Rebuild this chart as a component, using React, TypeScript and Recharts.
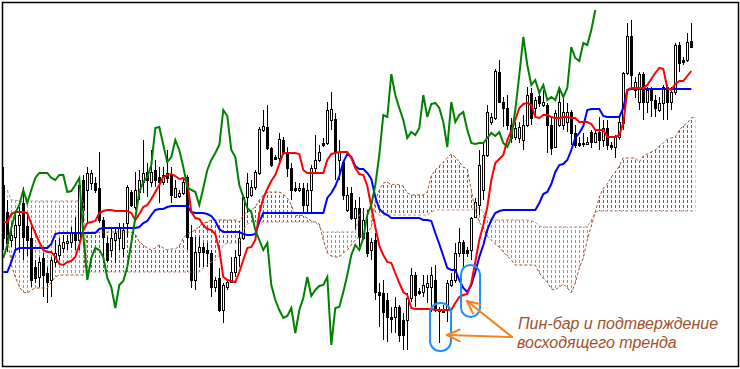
import { ComposedChart, Bar, Line, Area, XAxis, YAxis } from "recharts";

// price points (one value per bar)
const openP = [
  184, 157, 129, 132, 144, 166, 143, 131, 102, 92,
  111, 96, 89, 107, 114, 121, 126, 127, 136, 129,
  189, 179, 186, 186, 181, 149, 126, 119, 129, 131,
  121, 146, 177, 162, 177, 187, 197, 187, 199, 192,
  187, 196, 194, 172, 173, 176, 192, 132, 89, 117,
  122, 119, 116, 82, 91, 59, 82, 87, 97, 114,
  131, 172, 174, 182, 196, 239, 242, 221, 212, 211,
  229, 217, 201, 181, 179, 181, 164, 179, 201, 209,
  226, 226, 249, 250, 209, 207, 159, 176, 151, 161,
  131, 137, 119, 129, 77, 76, 69, 52, 52, 62,
  49, 49, 71, 94, 78, 77, 82, 82, 89, 58,
  60, 59, 84, 89, 116, 127, 119, 119, 152, 164,
  179, 214, 247, 251, 297, 267, 261, 244, 232, 231,
  229, 244, 276, 261, 273, 264, 264, 244, 222, 244,
  244, 247, 257, 236, 226, 226, 225, 237, 227, 237,
  229, 241, 224, 222, 232, 246, 296, 333, 279, 267,
  295, 267, 279, 269, 259, 266, 282, 267, 277, 324,
  309, 309, 328,
];
const highP = [
  202, 169, 146, 157, 162, 182, 157, 142, 109, 112,
  116, 102, 112, 129, 131, 134, 134, 142, 152, 191,
  194, 202, 199, 192, 217, 152, 132, 142, 142, 146,
  146, 184, 179, 197, 199, 229, 206, 219, 209, 202,
  202, 219, 202, 189, 179, 192, 194, 144, 132, 132,
  126, 126, 119, 92, 101, 86, 89, 112, 119, 139,
  174, 196, 189, 199, 242, 259, 264, 222, 214, 236,
  232, 222, 206, 187, 186, 186, 186, 204, 234, 224,
  231, 267, 277, 256, 229, 209, 182, 182, 169, 172,
  161, 159, 131, 136, 86, 89, 76, 62, 72, 64,
  56, 76, 101, 97, 81, 94, 94, 102, 104, 62,
  64, 89, 96, 126, 141, 129, 122, 152, 171, 219,
  226, 264, 256, 300, 309, 272, 274, 251, 247, 247,
  254, 282, 281, 272, 276, 279, 266, 252, 259, 281,
  272, 266, 259, 244, 232, 236, 232, 239, 239, 252,
  249, 249, 227, 234, 252, 297, 346, 349, 292, 297,
  297, 282, 282, 274, 272, 284, 284, 282, 326, 327,
  312, 336, 346,
];
const lowP = [
  119, 117, 122, 119, 116, 109, 113, 82, 86, 82,
  72, 66, 72, 102, 109, 116, 119, 121, 119, 119,
  147, 146, 179, 176, 146, 106, 107, 112, 106, 119,
  112, 132, 162, 159, 169, 176, 172, 182, 182, 166,
  184, 186, 166, 171, 171, 174, 119, 81, 79, 102,
  102, 102, 72, 77, 57, 46, 79, 86, 92, 102,
  129, 156, 172, 179, 194, 237, 219, 202, 209, 206,
  214, 192, 169, 177, 177, 156, 156, 156, 196, 207,
  222, 224, 239, 189, 189, 169, 157, 149, 139, 122,
  129, 112, 109, 69, 42, 29, 27, 36, 36, 27,
  19, 19, 67, 62, 74, 72, 66, 57, 57, 26,
  56, 47, 82, 86, 112, 102, 112, 109, 151, 154,
  169, 212, 244, 249, 266, 242, 239, 226, 229, 226,
  219, 242, 244, 252, 262, 262, 216, 214, 221, 242,
  239, 237, 224, 221, 222, 222, 224, 221, 226, 219,
  222, 219, 219, 211, 229, 239, 294, 282, 271, 259,
  249, 256, 252, 252, 257, 249, 249, 259, 274, 297,
  304, 307, 321,
];
const closeP = [
  131, 126, 134, 144, 154, 132, 129, 89, 91, 107,
  94, 87, 109, 116, 124, 127, 128, 136, 129, 184,
  159, 196, 196, 179, 149, 132, 109, 131, 136, 141,
  139, 182, 164, 179, 189, 196, 189, 197, 189, 187,
  194, 191, 174, 181, 176, 187, 132, 89, 117, 122,
  117, 116, 82, 89, 59, 84, 87, 97, 112, 131,
  172, 186, 182, 197, 240, 243, 221, 204, 210, 230,
  216, 201, 179, 179, 181, 164, 179, 201, 209, 217,
  224, 259, 260, 217, 217, 174, 174, 151, 161, 132,
  149, 116, 127, 77, 74, 57, 52, 50, 62, 34,
  34, 71, 94, 74, 76, 84, 86, 94, 59, 60,
  57, 86, 89, 116, 127, 116, 116, 151, 167, 204,
  214, 257, 252, 298, 267, 261, 244, 231, 241, 242,
  244, 274, 251, 269, 266, 267, 244, 221, 256, 267,
  257, 257, 236, 224, 224, 225, 227, 227, 236, 229,
  241, 224, 222, 233, 247, 296, 333, 294, 287, 295,
  267, 279, 269, 261, 266, 282, 267, 277, 324, 306,
  307, 327, 322,
];

// Tenkan-sen (red)
const tenkan = [
  147, 147, 155, 157, 157, 157, 156, 145, 136, 127,
  119, 117, 117, 112, 105, 104, 107, 108, 112, 124,
  139, 146, 147, 148, 156, 158, 159, 159, 158, 158,
  158, 158, 156, 149, 155, 162, 164, 170, 177, 184,
  192, 194, 195, 193, 190, 191, 187, 157, 151, 150,
  144, 140, 139, 135, 119, 92, 89, 88, 87, 97,
  109, 121, 122, 129, 156, 171, 180, 188, 194, 205,
  216, 216, 216, 216, 215, 199, 196, 196, 196, 196,
  196, 209, 215, 216, 217, 217, 217, 211, 201, 195,
  194, 183, 162, 142, 123, 114, 107, 106, 96, 86,
  77, 74, 61, 60, 60, 60, 60, 60, 59, 59,
  59, 59, 59, 66, 72, 74, 75, 86, 107, 129,
  144, 162, 189, 206, 210, 214, 229, 238, 249, 261,
  265, 266, 264, 252, 251, 254, 254, 252, 251, 251,
  252, 252, 251, 251, 247, 247, 247, 245, 239, 239,
  239, 232, 232, 232, 234, 246, 279, 281, 281, 281,
  281, 284, 290, 296, 301, 300, 281, 279, 285, 288,
  288, 293, 298,
];
// Kijun-sen (blue)
const kijun = [
  97, 97, 107, 119, 121, 121, 121, 121, 121, 121,
  121, 121, 125, 135, 136, 136, 136, 136, 136, 136,
  136, 136, 136, 136, 140, 141, 141, 141, 141, 141,
  141, 141, 141, 141, 142, 146, 148, 154, 159, 160,
  160, 162, 163, 163, 163, 163, 163, 157, 156, 156,
  156, 155, 153, 148, 140, 137, 137, 137, 137, 137,
  135, 134, 134, 135, 147, 156, 156, 156, 156, 156,
  156, 156, 156, 156, 156, 156, 156, 156, 156, 156,
  156, 171, 176, 183, 193, 207, 215, 212, 203, 200,
  200, 196, 190, 172, 160, 156, 154, 151, 151, 151,
  151, 151, 151, 151, 151, 149, 149, 148, 136, 125,
  113, 101, 99, 99, 89, 81, 77, 84, 97, 112,
  124, 139, 149, 156, 158, 159, 159, 159, 159, 159,
  159, 159, 159, 159, 166, 175, 177, 185, 197, 204,
  205, 209, 219, 231, 236, 243, 259, 260, 260, 260,
  253, 252, 252, 252, 252, 261, 279, 280, 280, 280,
  280, 280, 280, 280, 280, 280, 280, 280, 280, 280,
  280, 280, 280,
];
// Chikou span (green)
const chikou = [
  111, 124, 141, 156, 164, 179, 166, 179, 191, 196,
  196, 196, 191, 189, 194, 194, 177, 178, 184, 191,
  134, 89, 111, 121, 119, 112, 91, 82, 61, 84,
  88, 102, 126, 151, 177, 187, 192, 204, 241, 242,
  224, 207, 212, 229, 219, 202, 182, 179, 177, 164,
  181, 199, 209, 216, 224, 259, 253, 219, 212, 184,
  172, 161, 157, 139, 129, 119, 126, 84, 69, 59,
  51, 53, 61, 36, 59, 71, 92, 73, 79, 83,
  84, 92, 24, 61, 62, 77, 94, 114, 124, 119,
  131, 154, 164, 184, 214, 254, 252, 295, 274, 261,
  249, 231, 237, 234, 241, 274, 252, 265, 266, 261,
  247, 222, 267, 247, 254, 257, 239, 226, 225, 226,
  226, 231, 236, 233, 237, 226, 222, 232, 259, 294,
  332, 304, 284, 289, 276, 284, 269, 272, 269, 281,
  272, 281, 322, 311, 308, 326, 324, 339, 359,
];
// Senkou span A / B (cloud edges)
const spanA: (number | null)[] = [
  null, 134, 104, 92, 82, 77, 76, 79, 81, 81,
  81, 81, 87, 92, 94, 94, 94, 94, 94, 94,
  94, 137, 137, 137, 137, 137, 137, 137, 137, 137,
  137, 137, 137, 135, 127, 124, 121, 119, 121, 124,
  121, 119, 120, 120, 123, 131, 135, 137, 139, 143,
  146, 147, 149, 149, 149, 149, 149, 149, 149, 147,
  154, 157, 159, 162, 169, 174, 177, 177, 177, 177,
  175, 171, 164, 153, 154, 153, 151, 148, 147, 145,
  129, 116, 113, 112, 112, 116, 119, 124, 129, 132,
  134, 137, 141, 169, 179, 186, 187, 184, 185, 184,
  183, 176, 174, 174, 174, 174, 177, 193, 199, 203,
  207, 211, 215, 212, 207, 202, 200, 179, 158, 147,
  141, 133, 129, 125, 122, 117, 113, 109, 104, 104,
  104, 104, 104, 104, 96, 91, 87, 80, 79, 82,
  85, 81, 76, 86, 101, 111, 129, 143, 157, 172,
  181, 185, 192, 197, 203, 211, 211, 211, 211, 207,
  213, 215, 217, 219, 223, 226, 230, 231, 232, 239,
  243, 246, 251, 252,
];
const spanB: (number | null)[] = [
  null, 179, 169, 169, 168, 167, 168, 168, 168, 168,
  168, 168, 168, 168, 168, 168, 168, 168, 168, 168,
  168, 97, 97, 97, 97, 97, 97, 97, 97, 97,
  97, 97, 97, 97, 97, 97, 97, 97, 97, 97,
  97, 97, 97, 97, 97, 97, 97, 97, 97, 97,
  101, 104, 107, 109, 114, 124, 126, 126, 126, 126,
  139, 145, 147, 147, 147, 147, 147, 147, 147, 147,
  147, 147, 147, 147, 147, 147, 147, 147, 147, 143,
  137, 137, 137, 137, 137, 137, 137, 137, 137, 154,
  157, 159, 161, 157, 154, 154, 154, 154, 154, 154,
  154, 154, 154, 154, 154, 154, 154, 157, 159, 159,
  159, 159, 159, 159, 159, 159, 159, 159, 161, 161,
  157, 152, 149, 149, 149, 149, 149, 149, 149, 149,
  149, 149, 148, 147, 143, 142, 142, 142, 142, 142,
  142, 142, 142, 142, 142, 142, 142, 149, 157, 158,
  158, 158, 158, 158, 158, 158, 158, 158, 158, 158,
  158, 158, 158, 158, 158, 158, 158, 158, 158, 158,
  158, 158, 158, 158,
];

const rows = spanA.map((a, k) => {
  const b = spanB[k];
  const cloud = a != null && b != null;
  const hasBar = k < openP.length;
  return {
    k,
    range: hasBar ? [lowP[k], highP[k]] : undefined,
    open: openP[k],
    high: highP[k],
    low: lowP[k],
    close: closeP[k],
    tenkan: tenkan[k],
    kijun: kijun[k],
    chikou: chikou[k],
    spanA: a,
    spanB: b,
    bull: cloud ? (a! >= b! ? [b, a] : [a, a]) : undefined,
    bear: cloud ? (a! < b! ? [a, b] : [b, b]) : undefined,
  };
});

const Candle = (props: any) => {
  const { x, y, width, height, payload } = props;
  if (!payload || payload.open == null) return null;
  const { open, close, high, low } = payload;
  const cx = Math.round(x + width / 2) + 0.5;
  const span = high - low || 1;
  const toY = (v: number) => y + ((high - v) / span) * height;
  const top = Math.round(toY(Math.max(open, close))) + 0.5;
  const bot = Math.round(toY(Math.min(open, close))) + 0.5;
  const up = close >= open;
  return (
    <g shapeRendering="crispEdges">
      <line x1={cx} x2={cx} y1={y} y2={y + height} stroke="#000" strokeWidth={1} />
      <rect
        x={cx - 1}
        y={top}
        width={2}
        height={Math.max(bot - top, 1)}
        fill={up ? "#fff" : "#000"}
        stroke="#000"
        strokeWidth={1}
      />
    </g>
  );
};

const orange = "#f5821f";

const App = () => {
  return (
    <div style={{ position: "relative", width: 740, height: 369, background: "#fff" }}>
      <style>{"body{margin:0}"}</style>
      <ComposedChart
        width={740}
        height={369}
        data={rows}
        margin={{ top: 0, right: 0, bottom: 0, left: 0 }}
      >
        <defs>
          <pattern id="hatchDark" patternUnits="userSpaceOnUse" x={3} y={0} width={4} height={5}>
            <rect x={0} y={0} width={1} height={3} fill="#a0522d" />
          </pattern>
          <pattern id="hatchLight" patternUnits="userSpaceOnUse" x={3} y={0} width={4} height={5}>
            <rect x={0} y={0} width={1} height={3} fill="#b58a80" />
          </pattern>
        </defs>

        <XAxis dataKey="k" type="number" domain={[-0.825, 184.175]} allowDataOverflow hide />
        <YAxis type="number" domain={[0, 369]} allowDataOverflow hide />

        <Area type="linear" dataKey="bull" stroke="none" fill="url(#hatchDark)" fillOpacity={1} activeDot={false} isAnimationActive={false} />
        <Area type="linear" dataKey="bear" stroke="none" fill="url(#hatchLight)" fillOpacity={1} activeDot={false} isAnimationActive={false} />

        <Bar dataKey="range" barSize={3} activeBar={false} isAnimationActive={false} shape={(p: any) => <Candle {...p} />} />

        <Line type="linear" dataKey="spanA" stroke="#a0522d" strokeWidth={1} strokeDasharray="3 2" dot={false} activeDot={false} isAnimationActive={false} />
        <Line type="linear" dataKey="spanB" stroke="#bc8f8f" strokeWidth={1} strokeDasharray="3 2" dot={false} activeDot={false} isAnimationActive={false} />
        <Line type="linear" dataKey="kijun" stroke="#0000ff" strokeWidth={2} dot={false} activeDot={false} isAnimationActive={false} />
        <Line type="linear" dataKey="tenkan" stroke="#ff0000" strokeWidth={2} dot={false} activeDot={false} isAnimationActive={false} />
        <Line type="linear" dataKey="chikou" stroke="#008000" strokeWidth={2} dot={false} activeDot={false} isAnimationActive={false} />
      </ComposedChart>

      <svg
        width={740}
        height={369}
        style={{ position: "absolute", left: 0, top: 0, pointerEvents: "none" }}
      >
        <rect x={2.5} y={2.5} width={736} height={364} fill="none" stroke="#000" strokeWidth={1.5} />

        <rect x={430} y={303} width={21} height={48} rx={10} fill="none" stroke="#1e90ff" strokeWidth={2} />
        <rect x={461} y={265} width={19} height={52} rx={9.5} fill="none" stroke="#1e90ff" strokeWidth={2} />

        <g stroke={orange} strokeWidth={2} fill="none" strokeLinecap="round" strokeLinejoin="round">
          <line x1={512} y1={337} x2={467} y2={301} />
          <polyline points="473,313.5 467,301 480.6,304.3" />
          <line x1={512} y1={337} x2={447} y2={335} />
          <polyline points="459.7,341.3 447,335 459.7,329.5" />
        </g>

        <g fontFamily="'Liberation Sans', Arial, sans-serif" fontStyle="italic" fontSize={16} fill="#a0522d">
          <text x={518} y={329}>Пин-бар и подтверждение</text>
          <text x={517} y={348}>восходящего тренда</text>
        </g>
      </svg>
    </div>
  );
};

export default App;
